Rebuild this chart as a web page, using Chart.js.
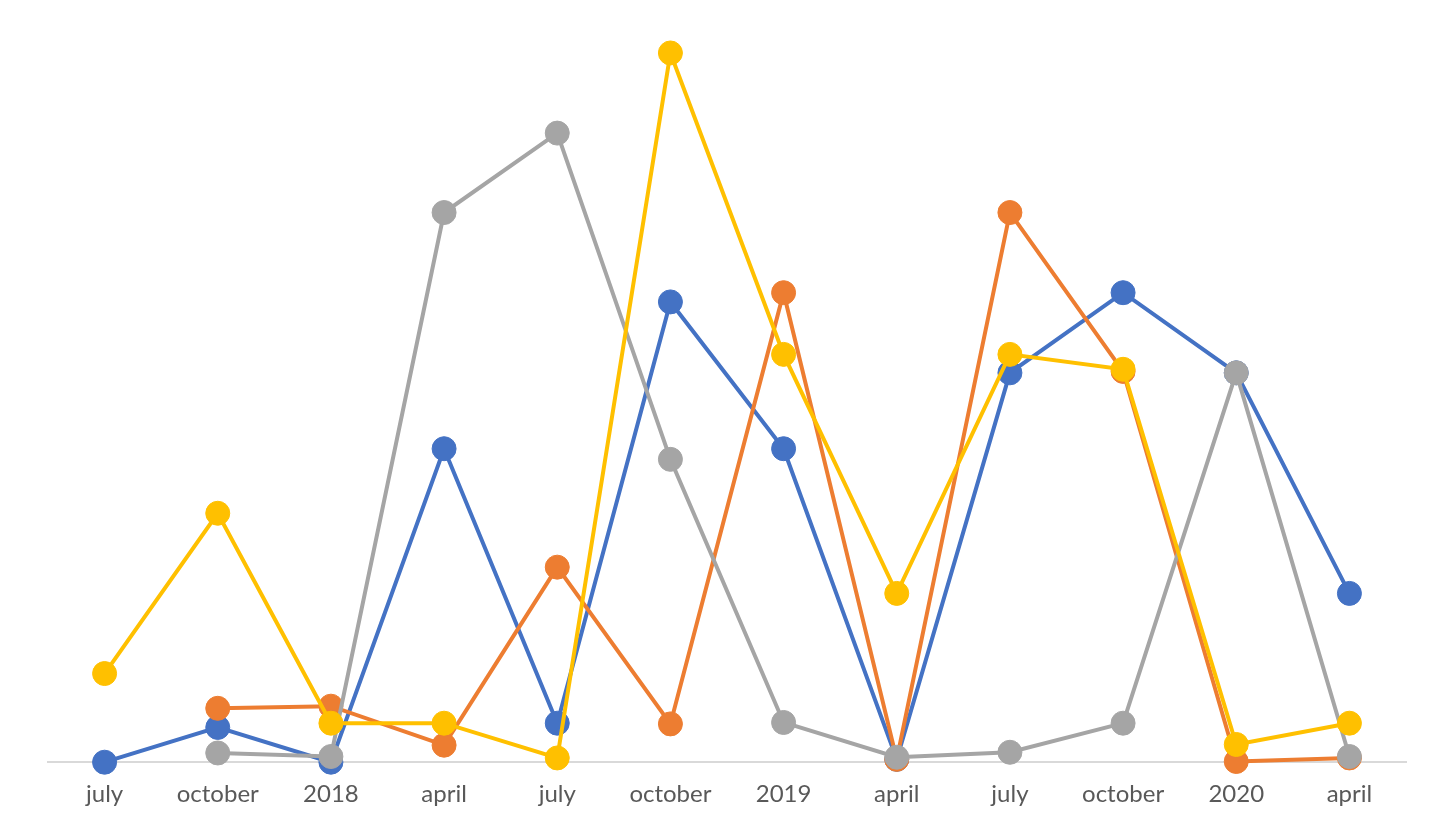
<!DOCTYPE html>
<html>
<head>
<meta charset="utf-8">
<script src="https://cdn.jsdelivr.net/npm/chart.js@4"></script>
<style>
  html, body { margin: 0; padding: 0; background: #fff; }
  #wrap { width: 1454px; height: 826px; }
</style>
</head>
<body>
<div id="wrap"><canvas id="lineChart"></canvas></div>
<script>
const labels = ["july", "october", "2018", "april", "july", "october", "2019", "april", "july", "october", "2020", "april"];

const blueValues = [0, 4.9, 0, 44.2, 5.5, 64.9, 44.2, 0.4, 54.9, 66.2, 54.9, 23.8];
const orangeValues = [null, 7.6, 7.9, 2.4, 27.5, 5.4, 66.2, 0.4, 77.5, 55.1, 0.1, 0.6];
const grayValues = [null, 1.3, 0.8, 77.5, 88.7, 42.7, 5.6, 0.7, 1.4, 5.5, 54.9, 0.8];
const yellowValues = [12.5, 35.1, 5.5, 5.5, 0.6, 100, 57.5, 23.8, 57.5, 55.4, 2.5, 5.5];

const makeSet = (data, color, order) => ({
  data: data,
  borderColor: color,
  backgroundColor: color,
  pointBackgroundColor: color,
  pointBorderColor: color,
  borderWidth: 4,
  pointRadius: 12,
  pointBorderWidth: 1,
  tension: 0,
  clip: false,
  order: order,
});

const chart = new Chart(
  document.getElementById("lineChart").getContext("2d"),
  {
    type: "line",
    data: {
      labels: labels,
      datasets: [
        makeSet(blueValues, "#4472C4", 4),
        makeSet(orangeValues, "#ED7D31", 3),
        makeSet(grayValues, "#A5A5A5", 2),
        makeSet(yellowValues, "#FFC000", 1),
      ],
    },
    options: {
      responsive: true,
      maintainAspectRatio: false,
      animation: false,
      layout: {
        padding: { top: 17.5, left: 48, right: 48, bottom: -1 },
      },
      plugins: {
        legend: { display: false },
        tooltip: { enabled: false },
      },
      scales: {
        x: {
          offset: true,
          grid: { display: false, drawTicks: false },
          border: { display: true, color: "#d9d9d9", width: 2 },
          ticks: {
            color: "#595959",
            padding: 18,
            maxRotation: 0,
            autoSkip: false,
            font: { family: "Lato", size: 24 },
          },
        },
        y: {
          display: false,
          min: 0,
          max: 105,
        },
      },
    },
  }
);
</script>
</body>
</html>
